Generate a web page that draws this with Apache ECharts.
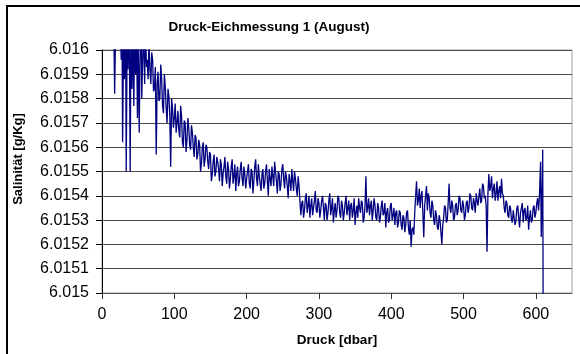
<!DOCTYPE html>
<html>
<head>
<meta charset="utf-8">
<script src="https://cdn.jsdelivr.net/npm/echarts@6/dist/echarts.min.js"></script>
<style>html,body{margin:0;padding:0;background:#fff}#c{width:580px;height:354px}</style>
</head>
<body>
<div id="c"></div>
<script>
const titleText = 'Druck-Eichmessung 1 (August)';
const xName = 'Druck [dbar]';
const yName = 'Salinität [g/Kg]';
const xTicks = [0, 100, 200, 300, 400, 500, 600];
const yTicks = [6.015, 6.0151, 6.0152, 6.0153, 6.0154, 6.0155, 6.0156, 6.0157, 6.0158, 6.0159, 6.016];

const pressure = [16, 17.5, 19, 21, 22.5, 25, 26.5, 27.5, 28.5, 30, 31, 32.5, 33.5, 35, 36, 37.5, 39, 40, 41.5, 42.5, 44, 45, 46.5, 47.5, 49, 50, 51.5, 52.5, 54, 55, 56.5, 57.5, 59, 60, 61.5,
62.5, 63.75, 65, 66.25, 67.5, 68.75, 70, 71.25, 72.5, 73.75, 75, 76.25, 77.5, 78.75, 80, 81.25, 82.5, 83.75, 85, 86.25,
87.5, 88.75, 90, 91.25, 92.5, 93.75, 95, 96.25, 97.5, 98.75, 100, 101.25, 102.5, 103.75, 105, 106.25, 107.5, 108.75, 110, 111.25,
112.5, 113.75, 115, 116.25, 117.5, 118.75, 120, 121.25, 122.5, 123.75, 125, 126.25, 127.5, 128.75, 130, 131.25, 132.5, 133.75, 135, 136.25,
137.5, 138.75, 140, 141.25, 142.5, 143.75, 145, 146.25, 147.5, 148.75, 150, 151.25, 152.5, 153.75, 155, 156.25, 157.5, 158.75, 160, 161.25,
162.5, 163.75, 165, 166.25, 167.5, 168.75, 170, 171.25, 172.5, 173.75, 175, 176.25, 177.5, 178.75, 180, 181.25, 182.5, 183.75, 185, 186.25,
187.5, 188.75, 190, 191.25, 192.5, 193.75, 195, 196.25, 197.5, 198.75, 200, 201.25, 202.5, 203.75, 205, 206.25, 207.5, 208.75, 210, 211.25,
212.5, 213.75, 215, 216.25, 217.5, 218.75, 220, 221.25, 222.5, 223.75, 225, 226.25, 227.5, 228.75, 230, 231.25, 232.5, 233.75, 235, 236.25,
237.5, 238.75, 240, 241.25, 242.5, 243.75, 245, 246.25, 247.5, 248.75, 250, 251.25, 252.5, 253.75, 255, 256.25, 257.5, 258.75, 260, 261.25,
262.5, 263.75, 265, 266.25, 267.5, 268.75, 270, 271.25, 272.5, 273.75, 275, 276.25, 277.5, 278.75, 280, 281.25, 282.5, 283.75, 285, 286.25,
287.5, 288.75, 290, 291.25, 292.5, 293.75, 295, 296.25, 297.5, 298.75, 300, 301.25, 302.5, 303.75, 305, 306.25, 307.5, 308.75, 310, 311.25,
312.5, 313.75, 315, 316.25, 317.5, 318.75, 320, 321.25, 322.5, 323.75, 325, 326.25, 327.5, 328.75, 330, 331.25, 332.5, 333.75, 335, 336.25,
337.5, 338.75, 340, 341.25, 342.5, 343.75, 345, 346.25, 347.5, 348.75, 350, 351.25, 352.5, 353.75, 355, 356.25, 357.5, 358.75, 360, 361.25,
362.5, 363.75, 365, 366.25, 367.5, 368.75, 370, 371.25, 372.5, 373.75, 375, 376.25, 377.5, 378.75, 380, 381.25, 382.5, 383.75, 385, 386.25,
387.5, 388.75, 390, 391.25, 392.5, 393.75, 395, 396.25, 397.5, 398.75, 400, 401.25, 402.5, 403.75, 405, 406.25, 407.5, 408.75, 410, 411.25,
412.5, 413.75, 415, 416.25, 417.5, 418.75, 420, 421.25, 422.5, 423.75, 425, 426.25, 427.5, 428.75, 430, 431.25, 432.5, 433.75, 435, 436.25,
437.5, 438.75, 440, 441.25, 442.5, 443.75, 445, 446.25, 447.5, 448.75, 450, 451.25, 452.5, 453.75, 455, 456.25, 457.5, 458.75, 460, 461.25,
462.5, 463.75, 465, 466.25, 467.5, 468.75, 470, 471.25, 472.5, 473.75, 475, 476.25, 477.5, 478.75, 480, 481.25, 482.5, 483.75, 485, 486.25,
487.5, 488.75, 490, 491.25, 492.5, 493.75, 495, 496.25, 497.5, 498.75, 500, 501.25, 502.5, 503.75, 505, 506.25, 507.5, 508.75, 510, 511.25,
512.5, 513.75, 515, 516.25, 517.5, 518.75, 520, 521.25, 522.5, 523.75, 525, 526.25, 527.5, 528.75, 530, 531.25, 532.5, 533.75, 535, 536.25,
537.5, 538.75, 540, 541.25, 542.5, 543.75, 545, 546.25, 547.5, 548.75, 550, 551.25, 552.5, 553.75, 555, 556.25, 557.5, 558.75, 560, 561.25,
562.5, 563.75, 565, 566.25, 567.5, 568.75, 570, 571.25, 572.5, 573.75, 575, 576.25, 577.5, 578.75, 580, 581.25, 582.5, 583.75, 585, 586.25,
587.5, 588.75, 590, 591.25, 592.5, 593.75, 595, 596.25, 597.5, 598.75, 600, 601.25, 602.5, 603.75, 605,
606.5, 607.5, 609, 609.5, 610.5];

const salinity = [6.01618, 6.01582, 6.01612, 6.01624, 6.01616, 6.01625, 6.01596, 6.01618, 6.01562, 6.0161, 6.01588, 6.01621, 6.0155, 6.01615, 6.01592, 6.01619, 6.0155, 6.01608, 6.01584, 6.01613, 6.01577, 6.01603, 6.0159, 6.01617, 6.01572, 6.01605, 6.01566, 6.01596, 6.01612, 6.0158, 6.01599, 6.01608, 6.01586, 6.01611, 6.01593,
6.01596, 6.01588, 6.01604, 6.01592, 6.01586, 6.01599, 6.01596, 6.01583, 6.01584, 6.01593, 6.01557, 6.01586, 6.01591, 6.01579, 6.0158, 6.01594, 6.01588, 6.01577, 6.01574, 6.0159,
6.01585, 6.01576, 6.0157, 6.01584, 6.01581, 6.01573, 6.01552, 6.0158, 6.01576, 6.01568, 6.01572, 6.01578, 6.01566, 6.0157, 6.01575, 6.01567, 6.01564, 6.01577, 6.01573, 6.01562,
6.0156, 6.01571, 6.0157, 6.01558, 6.01563, 6.01572, 6.01568, 6.01561, 6.01559, 6.01569, 6.01566, 6.0156, 6.01556, 6.01565, 6.01564, 6.01555, 6.01557, 6.01563, 6.01561, 6.0155,
6.01553, 6.0156, 6.01562, 6.01552, 6.01555, 6.01561, 6.0156, 6.01554, 6.01551, 6.01558, 6.01557, 6.01546, 6.01549, 6.01554, 6.01557, 6.01548, 6.0155, 6.01556, 6.01554, 6.01551,
6.01546, 6.01555, 6.01553, 6.01544, 6.01549, 6.01552, 6.01556, 6.01548, 6.01545, 6.01554, 6.01551, 6.01543, 6.01547, 6.01552, 6.01555, 6.01545, 6.01548, 6.01553, 6.01542, 6.01549,
6.01552, 6.01544, 6.01546, 6.01551, 6.01554, 6.01547, 6.01544, 6.01552, 6.01549, 6.01543, 6.01547, 6.0155, 6.01553, 6.01545, 6.01543, 6.01551, 6.0155, 6.01541, 6.01546, 6.01552,
6.01555, 6.01547, 6.01544, 6.01553, 6.01548, 6.01545, 6.01542, 6.01549, 6.01551, 6.01543, 6.01545, 6.0155, 6.01553, 6.01546, 6.0154, 6.01551, 6.01547, 6.01544, 6.01552, 6.01548,
6.01544, 6.01554, 6.0155, 6.01546, 6.01541, 6.0155, 6.01549, 6.01542, 6.01545, 6.01551, 6.01553, 6.01547, 6.01543, 6.0155, 6.01548, 6.01544, 6.01539, 6.01549, 6.01546, 6.01542,
6.01551, 6.01546, 6.01542, 6.0155, 6.01547, 6.01543, 6.0154, 6.01548, 6.01544, 6.01538, 6.01532, 6.01537, 6.01538, 6.01531, 6.01534, 6.01539, 6.01541, 6.01533, 6.01536, 6.0154,
6.01531, 6.01536, 6.01539, 6.01532, 6.01535, 6.01538, 6.01542, 6.01534, 6.01533, 6.01539, 6.01537, 6.01531, 6.01534, 6.01538, 6.0154, 6.01535, 6.0153, 6.01537, 6.01536, 6.0153,
6.01533, 6.01538, 6.01541, 6.01532, 6.01535, 6.01539, 6.01529, 6.01534, 6.01537, 6.01531, 6.01534, 6.0154, 6.01539, 6.01533, 6.01531, 6.01538, 6.01536, 6.0153, 6.01533, 6.01537,
6.0154, 6.01532, 6.01535, 6.01538, 6.0153, 6.01536, 6.01537, 6.01531, 6.01534, 6.01539, 6.01528, 6.01533, 6.01536, 6.01531, 6.01539, 6.01535, 6.01533, 6.01538, 6.01537, 6.01529,
6.01531, 6.01536, 6.01548, 6.01533, 6.01535, 6.01539, 6.01532, 6.01536, 6.01538, 6.0153, 6.01534, 6.01539, 6.01536, 6.01531, 6.0153, 6.01537, 6.01535, 6.01529, 6.01531, 6.01536,
6.01538, 6.01532, 6.01533, 6.01537, 6.01527, 6.01533, 6.01535, 6.01529, 6.0153, 6.01536, 6.01537, 6.0153, 6.01532, 6.01535, 6.01528, 6.01533, 6.01534, 6.01527, 6.01529, 6.01534,
6.01533, 6.01528, 6.01526, 6.01532, 6.01531, 6.01525, 6.01528, 6.01533, 6.01534, 6.01527, 6.01524, 6.0153, 6.01519, 6.01526, 6.01527, 6.01524, 6.01533, 6.0154, 6.01546, 6.01536,
6.01538, 6.01543, 6.01535, 6.0154, 6.01542, 6.01533, 6.01523, 6.01536, 6.0154, 6.01544, 6.01534, 6.01541, 6.01539, 6.01533, 6.01531, 6.01538, 6.01536, 6.0153, 6.01528, 6.01534,
6.01532, 6.01527, 6.01526, 6.01532, 6.0153, 6.01525, 6.0152, 6.01528, 6.01531, 6.01536, 6.01535, 6.01529, 6.0153, 6.01537, 6.01545, 6.01535, 6.01533, 6.01538, 6.01536, 6.0153,
6.01531, 6.01536, 6.01537, 6.01532, 6.01534, 6.0154, 6.01539, 6.01534, 6.01533, 6.01538, 6.01536, 6.0153, 6.01532, 6.01537, 6.01538, 6.01533, 6.01535, 6.01541, 6.0154, 6.01535,
6.01534, 6.01539, 6.01537, 6.01533, 6.01541, 6.01538, 6.01536, 6.0154, 6.01543, 6.01537, 6.01538, 6.01545, 6.01544, 6.01539, 6.0154, 6.01536, 6.01517, 6.01541, 6.01549, 6.01542,
6.01544, 6.01548, 6.01539, 6.01543, 6.01545, 6.01538, 6.01541, 6.01546, 6.01538, 6.01542, 6.01544, 6.01539, 6.01547, 6.01541, 6.0154, 6.01535, 6.01533, 6.01538, 6.01537, 6.01532,
6.01531, 6.01536, 6.01535, 6.0153, 6.01529, 6.01534, 6.01534, 6.01528, 6.0153, 6.01535, 6.01536, 6.01531, 6.01527, 6.01533, 6.01533, 6.01537, 6.01529, 6.01534, 6.01535, 6.0153,
6.01531, 6.01536, 6.01526, 6.01531, 6.01534, 6.01529, 6.0153, 6.01535, 6.01536, 6.01531, 6.01533, 6.01537, 6.01539, 6.01534, 6.0154,
6.01554, 6.01523, 6.01547, 6.01559, 6.0145];

const FONT = '"Liberation Sans", Arial, sans-serif';
const chart = echarts.init(document.getElementById('c'), null, {renderer: 'canvas'});
chart.setOption({
  animation: false,
  backgroundColor: '#ffffff',
  grid: {left: 102, top: 50, right: 8, bottom: 61, show: true, borderColor: '#a0a0a0', borderWidth: 1, backgroundColor: '#ffffff'},
  xAxis: {
    type: 'value', min: 0, max: 650, interval: 100,
    axisLine: {show: true, onZero: false, lineStyle: {color: '#555555', width: 1}},
    axisTick: {show: true, inside: false, length: 6, customValues: xTicks, lineStyle: {color: '#333333'}},
    axisLabel: {customValues: xTicks, margin: 14, fontSize: 16, color: '#000', fontFamily: FONT},
    splitLine: {show: false}
  },
  yAxis: {
    type: 'value', min: 6.015, max: 6.016, interval: 0.0001,
    axisLine: {show: true, lineStyle: {color: '#000000', width: 1}},
    axisTick: {show: true, inside: false, length: 6, customValues: yTicks, lineStyle: {color: '#000'}},
    axisLabel: {customValues: yTicks, margin: 13, fontSize: 16, color: '#000', fontFamily: FONT,
      formatter: v => String(parseFloat(v.toFixed(4)))},
    splitLine: {show: true, lineStyle: {color: '#4a4a4a', width: 1}}
  },
  series: [{
    type: 'line',
    data: pressure.map((p, i) => [p, salinity[i]]),
    showSymbol: false,
    clip: true,
    sampling: undefined,
    lineStyle: {color: '#000080', width: 1.3},
    itemStyle: {color: '#000080'}
  }],
  graphic: [
    {type: 'rect', shape: {x: 7, y: 6, width: 620, height: 400}, style: {fill: 'none', stroke: '#000', lineWidth: 2}, silent: true},
    {type: 'text', x: 269, y: 27, style: {text: titleText, font: 'bold 13.5px ' + FONT, fill: '#000', textAlign: 'center', textVerticalAlign: 'middle'}},
    {type: 'text', x: 337, y: 340, style: {text: xName, font: 'bold 13.5px ' + FONT, fill: '#000', textAlign: 'center', textVerticalAlign: 'middle'}},
    {type: 'text', x: 18, y: 159, rotation: Math.PI / 2, style: {text: yName, font: 'bold 13px ' + FONT, fill: '#000', textAlign: 'center', textVerticalAlign: 'middle'}}
  ]
});
</script>
</body>
</html>
